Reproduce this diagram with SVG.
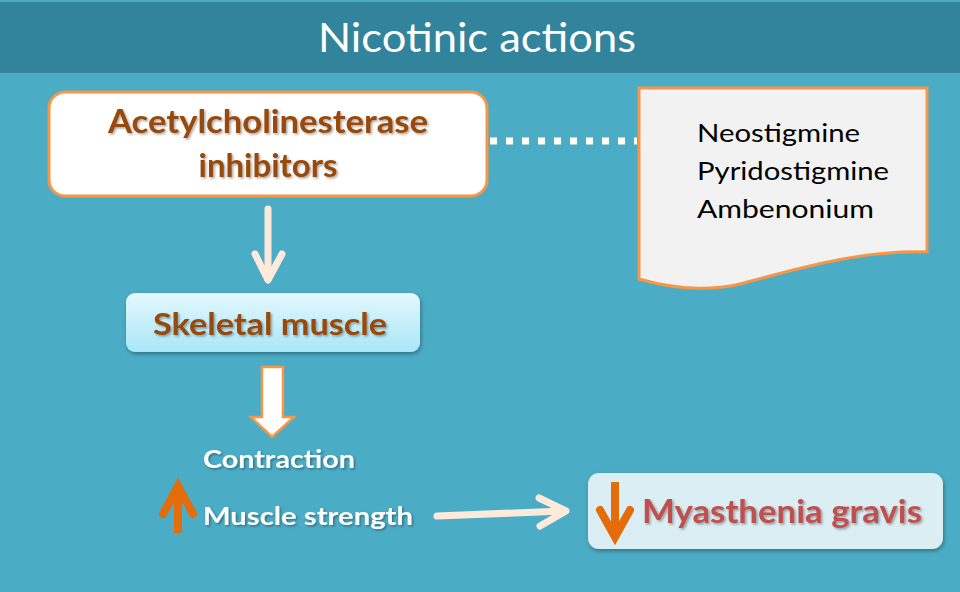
<svg xmlns="http://www.w3.org/2000/svg" width="960" height="592" viewBox="0 0 960 592">
<defs>
<style>
.bold{font-family:Lato,"Open Sans","Liberation Sans",sans-serif;font-weight:bold}
.brown{fill:#984807}
.wht{fill:#ffffff}
.reg{font-family:Lato,"Open Sans","Liberation Sans",sans-serif}
.thin{fill:none;stroke:#FDEADA;stroke-width:7;stroke-linecap:round;stroke-linejoin:round}
.orange{fill:none;stroke:#E46C0A;stroke-width:8;stroke-linejoin:miter}
</style>
<linearGradient id="skg" x1="0" y1="0" x2="0" y2="1">
<stop offset="0" stop-color="#E4F8FE"/>
<stop offset="1" stop-color="#A9E7F8"/>
</linearGradient>
<filter id="ts" x="-10%" y="-30%" width="120%" height="160%">
<feDropShadow dx="1.5" dy="1.5" stdDeviation="1.2" flood-color="#000" flood-opacity="0.35"/>
</filter>
<filter id="bs" x="-10%" y="-20%" width="120%" height="150%">
<feDropShadow dx="1" dy="2" stdDeviation="2" flood-color="#000" flood-opacity="0.35"/>
</filter>
</defs>
<rect x="0" y="0" width="960" height="592" fill="#4BACC6"/>
<g id="title">
<rect x="0" y="2" width="960" height="71" fill="#31849B"/>
<text x="477" y="52" text-anchor="middle" class="reg" font-size="40" fill="#ffffff" textLength="318" lengthAdjust="spacingAndGlyphs">Nicotinic actions</text>
</g>
<g id="connectors">
<line x1="490" y1="141" x2="637" y2="141" stroke="#ffffff" stroke-width="7" stroke-dasharray="7 9"/>
<g id="arrow-ache-skeletal">
<line x1="268" y1="209" x2="268" y2="279" class="thin"/>
<polyline points="255,254 268,280 282,254" class="thin"/>
</g>
<g id="arrow-skeletal-contraction">
<path d="M262,367 H283 V417 H294 L272,437 L251,417 H262 Z" fill="#ffffff" stroke="#F79646" stroke-width="2.5" stroke-linejoin="miter"/>
</g>
<g id="arrow-strength-mg">
<line x1="437" y1="516" x2="564" y2="511" class="thin"/>
<polyline points="539,498 566,511 540,526" class="thin"/>
</g>
</g>
<g id="node-ache">
<rect x="49" y="92" width="438" height="104" rx="16" fill="#ffffff" stroke="#F79646" stroke-width="3"/>
<text x="268" y="133" text-anchor="middle" class="bold brown" font-size="33" filter="url(#ts)" textLength="320" lengthAdjust="spacingAndGlyphs">Acetylcholinesterase</text>
<text x="268" y="177" text-anchor="middle" class="bold brown" font-size="33" filter="url(#ts)">inhibitors</text>
</g>
<g id="node-drugs">
<path d="M639,88 H927 V252 C860,250 800,268 740,284 C705,292 670,288 639,279 Z" fill="#F2F2F2" stroke="#F79646" stroke-width="3"/>
<text x="697" y="142" class="reg" font-size="25" fill="#000000" textLength="163" lengthAdjust="spacingAndGlyphs">Neostigmine</text>
<text x="697" y="180" class="reg" font-size="25" fill="#000000" textLength="192" lengthAdjust="spacingAndGlyphs">Pyridostigmine</text>
<text x="697" y="218" class="reg" font-size="25" fill="#000000" textLength="177" lengthAdjust="spacingAndGlyphs">Ambenonium</text>
</g>
<g id="node-skeletal">
<rect x="126" y="293" width="294" height="59" rx="9" fill="url(#skg)" filter="url(#bs)"/>
<text x="270" y="335" text-anchor="middle" class="bold brown" font-size="30" filter="url(#ts)" textLength="234" lengthAdjust="spacingAndGlyphs">Skeletal muscle</text>
</g>
<g id="node-contraction">
<text x="203" y="468" class="bold wht" font-size="25" filter="url(#ts)" textLength="152" lengthAdjust="spacingAndGlyphs">Contraction</text>
</g>
<g id="node-strength">
<line x1="178" y1="533" x2="178" y2="486" class="orange"/>
<polyline points="163,514 178,486 193,514" class="orange" stroke-linecap="round"/>
<text x="203" y="525" class="bold wht" font-size="25" filter="url(#ts)" textLength="210" lengthAdjust="spacingAndGlyphs">Muscle strength</text>
</g>
<g id="node-mg">
<rect x="588" y="473" width="355" height="76" rx="11" fill="#DAEEF3" filter="url(#bs)"/>
<line x1="615" y1="482" x2="615" y2="536" class="orange"/>
<polyline points="600,510 615,537 630,510" class="orange" stroke-linecap="round"/>
<text x="642" y="523" class="bold" font-size="32" fill="#C0504D" filter="url(#ts)" textLength="280" lengthAdjust="spacingAndGlyphs">Myasthenia gravis</text>
</g>
</svg>
